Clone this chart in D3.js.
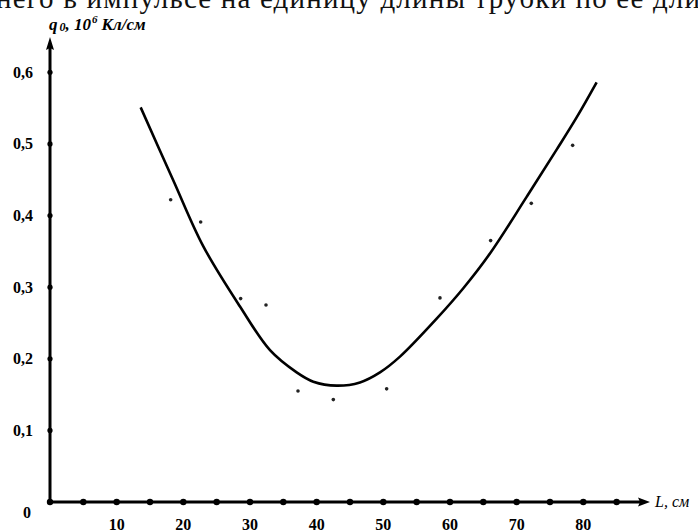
<!DOCTYPE html>
<html>
<head>
<meta charset="utf-8">
<script src="https://cdn.jsdelivr.net/npm/d3@7/dist/d3.min.js"></script>
<style>
  html, body { margin: 0; padding: 0; background: #fff; }
  svg { display: block; }
  .serif { font-family: "Liberation Serif", "DejaVu Serif", serif; }
</style>
</head>
<body>
<svg id="chart" width="698" height="532"></svg>
<script>
// Axis ticks
const xTickValues = [0, 5, 10, 15, 20, 25, 30, 35, 40, 45, 50, 55, 60, 65, 70, 75, 80, 85];
const xTickLabels = [10, 20, 30, 40, 50, 60, 70, 80];
const yTickValues = [0.1, 0.2, 0.3, 0.4, 0.5, 0.6];

// Measured charge per unit length vs tube length
const measuredL = [18.1, 22.6, 28.6, 32.4, 37.2, 42.5, 50.5, 58.5, 66.1, 72.2, 78.4];
const measuredQ = [0.422, 0.391, 0.284, 0.275, 0.155, 0.143, 0.158, 0.285, 0.365, 0.417, 0.498];

// Smoothed approximation curve
const curveL = [13.6, 18.5, 23, 28.5, 33, 37, 39.5, 43, 46.5, 49.5, 52.5, 58, 62, 66, 71.5, 76, 79, 82];
const curveQ = [0.551, 0.449, 0.357, 0.273, 0.212, 0.181, 0.168, 0.1625, 0.167, 0.181, 0.203, 0.256, 0.2985, 0.347, 0.426, 0.492, 0.537, 0.586];

const svg = d3.select("#chart");
const ox = 50, oy = 502;
const x = d3.scaleLinear().domain([0, 80]).range([ox, ox + 533.3]);
const y = d3.scaleLinear().domain([0, 0.6]).range([oy, 72.3]);

// Caption line partially cut at the top edge
svg.append("text").attr("class", "serif")
  .attr("x", -4).attr("y", 8)
  .attr("font-size", 29)
  .attr("fill", "#111")
  .attr("textLength", 704).attr("lengthAdjust", "spacing")
  .text("него в импульсе  на единицу длины трубки по ее дли");

// Axes lines
svg.append("line").attr("x1", ox).attr("y1", oy).attr("x2", 641).attr("y2", oy)
  .attr("stroke", "#000").attr("stroke-width", 3);
svg.append("line").attr("x1", ox).attr("y1", oy + 1.5).attr("x2", ox).attr("y2", 46)
  .attr("stroke", "#000").attr("stroke-width", 3);

// Arrow heads
svg.append("path").attr("d", `M650,${oy} L638,${oy - 4.5} L640,${oy} L638,${oy + 4.5} Z`).attr("fill", "#000");
svg.append("path").attr("d", `M${ox},37 L${ox - 4},50 L${ox},48 L${ox + 4},50 Z`).attr("fill", "#000");

// Tick dots
svg.append("g").selectAll("circle").data(xTickValues).join("circle")
  .attr("cx", d => x(d)).attr("cy", oy).attr("r", 3.2).attr("fill", "#000");
svg.append("g").selectAll("circle").data(yTickValues).join("circle")
  .attr("cx", ox).attr("cy", d => y(d)).attr("r", 2.6).attr("fill", "#000");

// Tick labels
svg.append("g").selectAll("text").data(xTickLabels).join("text")
  .attr("class", "serif")
  .attr("x", d => x(d)).attr("y", 530)
  .attr("text-anchor", "middle")
  .attr("font-weight", "bold").attr("font-size", 16)
  .text(d => d);
svg.append("g").selectAll("text").data(yTickValues).join("text")
  .attr("class", "serif")
  .attr("x", 33).attr("y", d => y(d) + 5.5)
  .attr("text-anchor", "end")
  .attr("font-weight", "bold").attr("font-size", 16)
  .text(d => d3.format(".1f")(d).replace(".", ","));
svg.append("text").attr("class", "serif").attr("x", 27).attr("y", 518).attr("text-anchor", "middle")
  .attr("font-weight", "bold").attr("font-size", 16)
  .text("0");

// Axis titles
svg.append("text").attr("class", "serif").attr("x", 655).attr("y", 507)
  .attr("font-style", "italic").attr("font-size", 16)
  .text("L, см");

const yt = svg.append("text").attr("class", "serif").attr("x", 49).attr("y", 30)
  .attr("font-style", "italic").attr("font-weight", "bold").attr("font-size", 17);
yt.append("tspan").text("q");
yt.append("tspan").attr("font-size", 12).attr("dy", 1).attr("dx", 2).text("0");
yt.append("tspan").attr("dy", -1).text(", 10");
yt.append("tspan").attr("font-size", 11).attr("dy", -7).attr("dx", 1).text("6");
yt.append("tspan").attr("dy", 7).attr("dx", 4).text("Кл/см");

// Approximation curve
const line = d3.line().x(d => x(d[0])).y(d => y(d[1])).curve(d3.curveCatmullRom);
svg.append("path")
  .datum(curveL.map((l, i) => [l, curveQ[i]]))
  .attr("d", line)
  .attr("fill", "none").attr("stroke", "#000").attr("stroke-width", 2.6)
  .attr("stroke-linejoin", "round");

// Measured points
svg.append("g").selectAll("circle").data(measuredL.map((l, i) => [l, measuredQ[i]])).join("circle")
  .attr("cx", d => x(d[0])).attr("cy", d => y(d[1])).attr("r", 1.8).attr("fill", "#222");
</script>
</body>
</html>
